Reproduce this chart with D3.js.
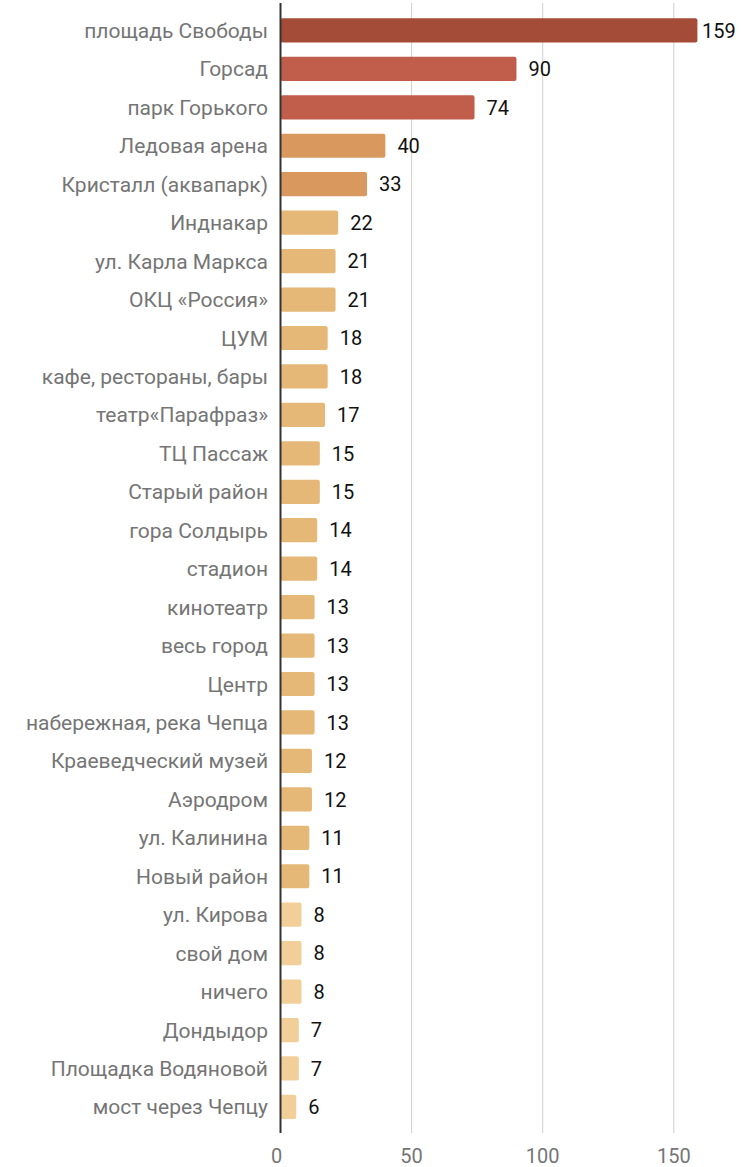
<!DOCTYPE html>
<html>
<head>
<meta charset="utf-8">
<script src="https://cdn.jsdelivr.net/npm/d3@7/dist/d3.min.js"></script>
<style>
  body { margin: 0; background: #fff; }
  svg text { font-family: Roboto, "Noto Sans", sans-serif; }
</style>
</head>
<body>
<div id="chart"></div>
<script>
// places and the number of mentions
var places = ["площадь Свободы", "Горсад", "парк Горького", "Ледовая арена", "Кристалл (аквапарк)",
  "Инднакар", "ул. Карла Маркса", "ОКЦ «Россия»", "ЦУМ", "кафе, рестораны, бары",
  "театр«Парафраз»", "ТЦ Пассаж", "Старый район", "гора Солдырь", "стадион",
  "кинотеатр", "весь город", "Центр", "набережная, река Чепца", "Краеведческий музей",
  "Аэродром", "ул. Калинина", "Новый район", "ул. Кирова", "свой дом",
  "ничего", "Дондыдор", "Площадка Водяновой", "мост через Чепцу"];
var counts = [159, 90, 74, 40, 33, 22, 21, 21, 18, 18, 17, 15, 15, 14, 14, 13, 13, 13, 13, 12, 12, 11, 11, 8, 8, 8, 7, 7, 6];
var ticks = [0, 50, 100, 150];

var width = 743, height = 1167;
var margin = {top: 11, right: 20, bottom: 34, left: 280.5};

var svg = d3.select("#chart").append("svg").attr("width", width).attr("height", height);

var x = d3.scaleLinear().domain([0, 160]).range([margin.left, margin.left + 160 * 2.622]);
var y = d3.scaleBand().domain(places).range([margin.top, margin.top + 29 * 38.46]).paddingInner(0.37).paddingOuter(0.19);

// color by size group
function barColor(v) {
  if (v > 100) return "#a44c37";
  if (v > 50) return "#c15e4b";
  if (v > 25) return "#d9985e";
  if (v > 10) return "#e5b878";
  return "#f2cf98";
}

var gridBottom = 1133;

// gridlines
svg.append("g").selectAll("line")
  .data(ticks.filter(function(t) { return t > 0; }))
  .enter().append("line")
  .attr("x1", function(d) { return x(d); })
  .attr("x2", function(d) { return x(d); })
  .attr("y1", 3).attr("y2", gridBottom)
  .attr("stroke", "#cfcfcf").attr("stroke-width", 1);

// bars
svg.append("g").selectAll("rect")
  .data(places)
  .enter().append("rect")
  .attr("x", x(0))
  .attr("y", function(d) { return y(d); })
  .attr("width", function(d, i) { return x(counts[i]) - x(0); })
  .attr("height", y.bandwidth())
  .attr("rx", 2).attr("ry", 2)
  .attr("fill", function(d, i) { return barColor(counts[i]); });

// value labels
svg.append("g").selectAll("text")
  .data(places)
  .enter().append("text")
  .attr("x", function(d, i) { return Math.min(x(counts[i]) + 12, width - 41); })
  .attr("y", function(d) { return y(d) + y.bandwidth() / 2; })
  .attr("dy", "0.36em")
  .attr("font-size", 20)
  .attr("fill", "#111")
  .text(function(d, i) { return counts[i]; });

// category labels
svg.append("g").selectAll("text")
  .data(places)
  .enter().append("text")
  .attr("x", 268)
  .attr("y", function(d) { return y(d) + y.bandwidth() / 2; })
  .attr("dy", "0.36em")
  .attr("text-anchor", "end")
  .attr("font-size", 21)
  .attr("fill", "#757575")
  .text(function(d) { return d; });

// baseline
svg.append("line")
  .attr("x1", x(0)).attr("x2", x(0))
  .attr("y1", 3).attr("y2", gridBottom)
  .attr("stroke", "#333").attr("stroke-width", 2);

// x tick labels
svg.append("g").selectAll("text")
  .data(ticks)
  .enter().append("text")
  .attr("x", function(d) { return d === 0 ? x(d) - 4 : x(d); })
  .attr("y", 1156)
  .attr("dy", "0.36em")
  .attr("text-anchor", "middle")
  .attr("font-size", 20)
  .attr("fill", "#757575")
  .text(function(d) { return d; });
</script>
</body>
</html>
